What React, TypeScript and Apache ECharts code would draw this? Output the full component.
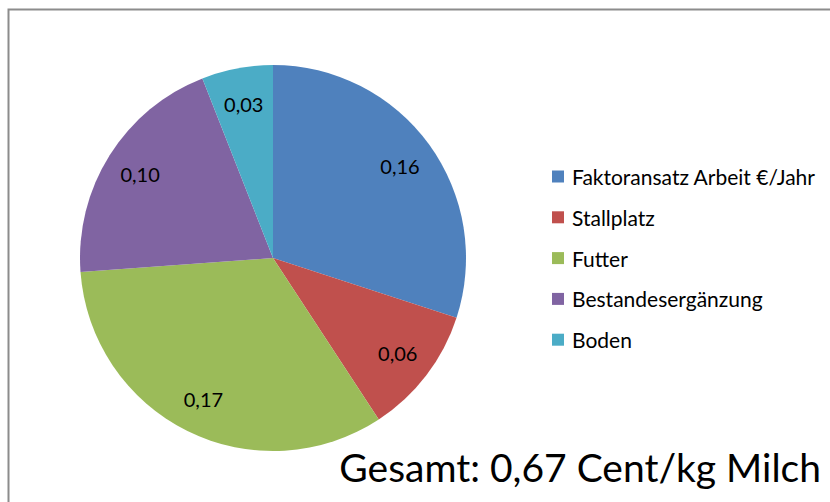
import React, { useEffect, useRef } from "react";
import * as echarts from "echarts";

const categories = ["Faktoransatz Arbeit €/Jahr", "Stallplatz", "Futter", "Bestandesergänzung", "Boden"];
const values = [0.156, 0.056, 0.172, 0.105, 0.031];
const colors = ["#4F81BD", "#C0504D", "#9BBB59", "#8064A2", "#4BACC6"];
const totalText = "Gesamt: 0,67 Cent/kg Milch";

const FONT = "Lato, 'Open Sans', sans-serif";

export default function App() {
  const ref = useRef<HTMLDivElement>(null);
  useEffect(() => {
    if (!ref.current) return;
    const chart = echarts.init(ref.current, null, { renderer: "svg" });
    const data = categories.map((name, i) => ({ name, value: values[i] }));
    chart.setOption({
      animation: false,
      color: colors,
      textStyle: { fontFamily: FONT },
      graphic: [
        {
          type: "rect",
          shape: { x: 8.5, y: 9.5, width: 900, height: 600 },
          style: { fill: "none", stroke: "#8c8c8c", lineWidth: 2 },
          silent: true,
          z: -1,
        },
        {
          type: "text",
          x: 821,
          y: 467,
          style: {
            text: totalText,
            font: `39px ${FONT}`,
            fill: "#000",
            align: "right",
            verticalAlign: "middle",
          },
        },
      ],
      legend: {
        orient: "vertical",
        left: 547,
        top: 161,
        itemWidth: 12,
        itemHeight: 12,
        itemGap: 19.8,
        icon: "rect",
        data: categories,
        textStyle: { fontSize: 21, color: "#000", fontFamily: FONT, lineHeight: 20, padding: [0, 0, 0, 3] },
        selectedMode: false,
      },
      series: [
        {
          type: "pie",
          center: [273, 258],
          radius: [0, 193],
          startAngle: 90,
          clockwise: true,
          data,
          label: { show: false },
          labelLine: { show: false },
          silent: true,
        },
        {
          type: "pie",
          center: [273, 258],
          radius: [115, 193],
          startAngle: 90,
          clockwise: true,
          data,
          itemStyle: { color: "rgba(0,0,0,0)" },
          label: {
            show: true,
            position: "inside",
            fontSize: 20,
            color: "#000",
            fontFamily: FONT,
            formatter: (p: any) => Number(p.value).toFixed(2).replace(".", ","),
          },
          labelLine: { show: false },
          emphasis: { disabled: true },
          silent: true,
        },
      ],
    });
    return () => chart.dispose();
  }, []);
  return (
    <div
      ref={ref}
      style={{ position: "fixed", left: 0, top: 0, width: 830, height: 502, background: "#fff" }}
    />
  );
}
